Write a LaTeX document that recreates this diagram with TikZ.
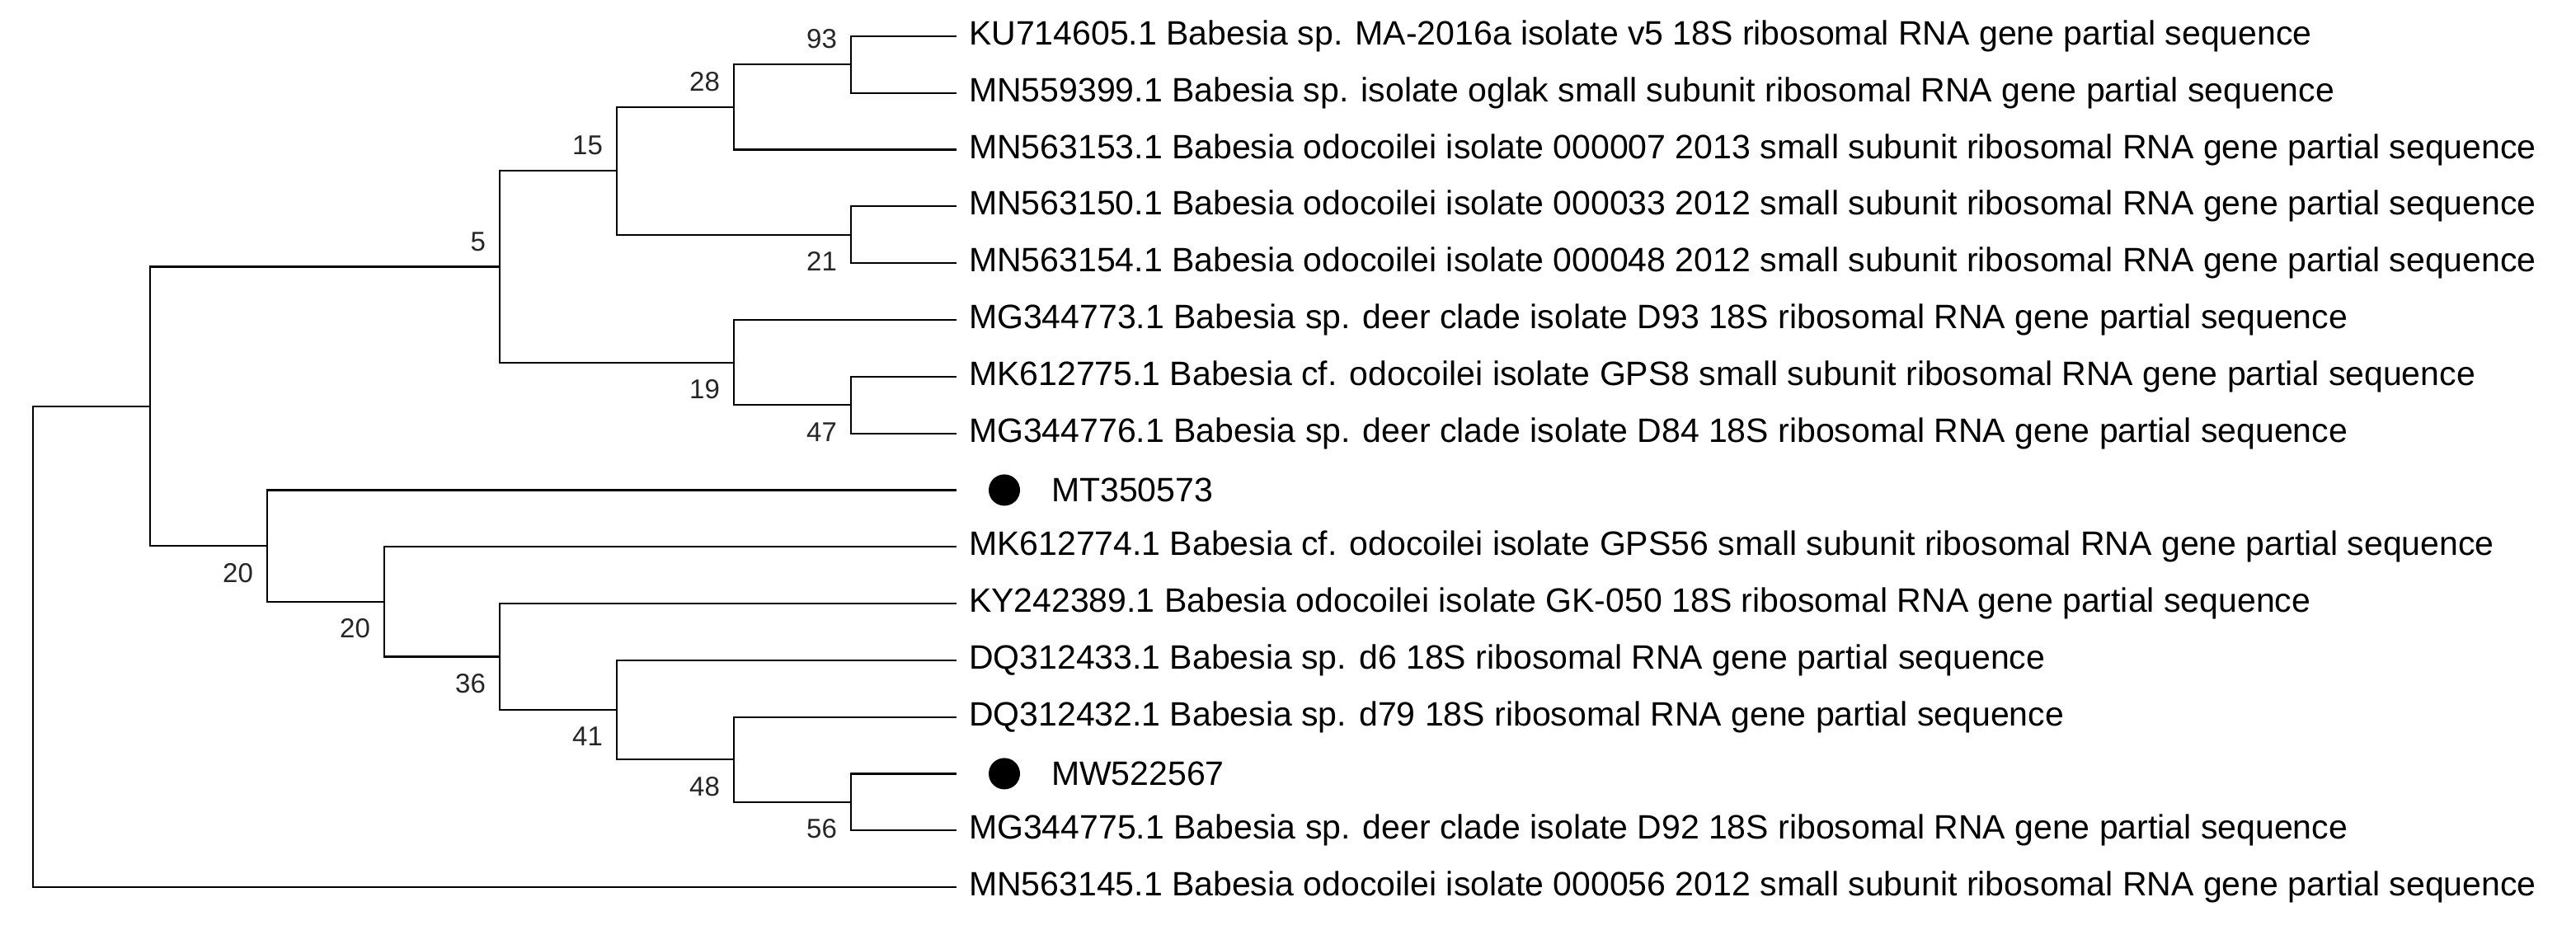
\documentclass[tikz,border=0pt]{standalone}
\usepackage{fontspec}
\setmainfont{Liberation Sans}
\begin{document}
\begin{tikzpicture}[x=1pt,y=-1pt,line width=1.1pt,
  leaf/.style={anchor=west,font=\fontsize{20.5}{23}\selectfont,inner sep=0pt},
  bs/.style={font=\fontsize{16.5}{18}\selectfont,inner sep=0pt,text=black!85},
  bsa/.style={bs,anchor=south east},
  bsb/.style={bs,anchor=north east}]
\useasboundingbox (0,0) rectangle (1562,564);
% leaf ends
\foreach \i/\y in {1/22,2/56.4,3/90.8,4/125.2,5/159.6,6/194,7/228.4,8/262.8,9/297.2,10/331.6,11/366,12/400.4,13/434.8,14/469.2,15/503.6,16/538}
  \coordinate (l\i) at (580,\y);
% internal nodes
\coordinate (A) at (516,39.2);
\coordinate (B) at (445,65);
\coordinate (C) at (516,142.4);
\coordinate (D) at (374,103.7);
\coordinate (E) at (516,245.6);
\coordinate (F) at (445,219.8);
\coordinate (G) at (303,161.75);
\coordinate (H) at (516,486.4);
\coordinate (N48) at (445,460.6);
\coordinate (N41) at (374,430.5);
\coordinate (N36) at (303,398.25);
\coordinate (N20b) at (233,364.9);
\coordinate (N20a) at (162,331.05);
\coordinate (K) at (91,246.4);
\coordinate (R) at (20,392.2);
\draw (l1) -| (A) |- (l2);
\draw (A) -| (B) |- (l3);
\draw (l4) -| (C) |- (l5);
\draw (B) -| (D) |- (C);
\draw (l7) -| (E) |- (l8);
\draw (l6) -| (F) |- (E);
\draw (D) -| (G) |- (F);
\draw (l14) -| (H) |- (l15);
\draw (l13) -| (N48) |- (H);
\draw (l12) -| (N41) |- (N48);
\draw (l11) -| (N36) |- (N41);
\draw (l10) -| (N20b) |- (N36);
\draw (l9) -| (N20a) |- (N20b);
\draw (G) -| (K) |- (N20a);
\draw (K) -| (R) |- (l16);
% labels
\node[leaf] (t1) at (587,22) {KU714605.1 Babesia sp. MA-2016a isolate v5 18S ribosomal RNA gene partial sequence};
\node[leaf] (t2) at (587,56.4) {MN559399.1 Babesia sp. isolate oglak small subunit ribosomal RNA gene partial sequence};
\node[leaf] (t3) at (587,90.8) {MN563153.1 Babesia odocoilei isolate 000007 2013 small subunit ribosomal RNA gene partial sequence};
\node[leaf] (t4) at (587,125.2) {MN563150.1 Babesia odocoilei isolate 000033 2012 small subunit ribosomal RNA gene partial sequence};
\node[leaf] (t5) at (587,159.6) {MN563154.1 Babesia odocoilei isolate 000048 2012 small subunit ribosomal RNA gene partial sequence};
\node[leaf] (t6) at (587,194) {MG344773.1 Babesia sp. deer clade isolate D93 18S ribosomal RNA gene partial sequence};
\node[leaf] (t7) at (587,228.4) {MK612775.1 Babesia cf. odocoilei isolate GPS8 small subunit ribosomal RNA gene partial sequence};
\node[leaf] (t8) at (587,262.8) {MG344776.1 Babesia sp. deer clade isolate D84 18S ribosomal RNA gene partial sequence};
\fill (609,297.2) circle (9.5);
\node[leaf] (t9) at (637,297.2) {MT350573};
\node[leaf] (t10) at (587,331.6) {MK612774.1 Babesia cf. odocoilei isolate GPS56 small subunit ribosomal RNA gene partial sequence};
\node[leaf] (t11) at (587,366) {KY242389.1 Babesia odocoilei isolate GK-050 18S ribosomal RNA gene partial sequence};
\node[leaf] (t12) at (587,400.4) {DQ312433.1 Babesia sp. d6 18S ribosomal RNA gene partial sequence};
\node[leaf] (t13) at (587,434.8) {DQ312432.1 Babesia sp. d79 18S ribosomal RNA gene partial sequence};
\fill (609,469.2) circle (9.5);
\node[leaf] (t14) at (637,469.2) {MW522567};
\node[leaf] (t15) at (587,503.6) {MG344775.1 Babesia sp. deer clade isolate D92 18S ribosomal RNA gene partial sequence};
\node[leaf] (t16) at (587,538) {MN563145.1 Babesia odocoilei isolate 000056 2012 small subunit ribosomal RNA gene partial sequence};
% bootstrap
\node[bsa] (b93) at ([xshift=-8pt,yshift=9pt]A) {93};
\node[bsa] (b28) at ([xshift=-8pt,yshift=9pt]B) {28};
\node[bsb] (b21) at ([xshift=-8pt,yshift=-10pt]C) {21};
\node[bsa] (b15) at ([xshift=-8pt,yshift=9pt]D) {15};
\node[bsb] (b47) at ([xshift=-8pt,yshift=-10pt]E) {47};
\node[bsb] (b19) at ([xshift=-8pt,yshift=-10pt]F) {19};
\node[bsa] (b5) at ([xshift=-8pt,yshift=9pt]G) {5};
\node[bsb] (b56) at ([xshift=-8pt,yshift=-10pt]H) {56};
\node[bsb] (b48) at ([xshift=-8pt,yshift=-10pt]N48) {48};
\node[bsb] (b41) at ([xshift=-8pt,yshift=-10pt]N41) {41};
\node[bsb] (b36) at ([xshift=-8pt,yshift=-10pt]N36) {36};
\node[bsb] (b20b) at ([xshift=-8pt,yshift=-10pt]N20b) {20};
\node[bsb] (b20a) at ([xshift=-8pt,yshift=-10pt]N20a) {20};
\end{tikzpicture}
\end{document}
